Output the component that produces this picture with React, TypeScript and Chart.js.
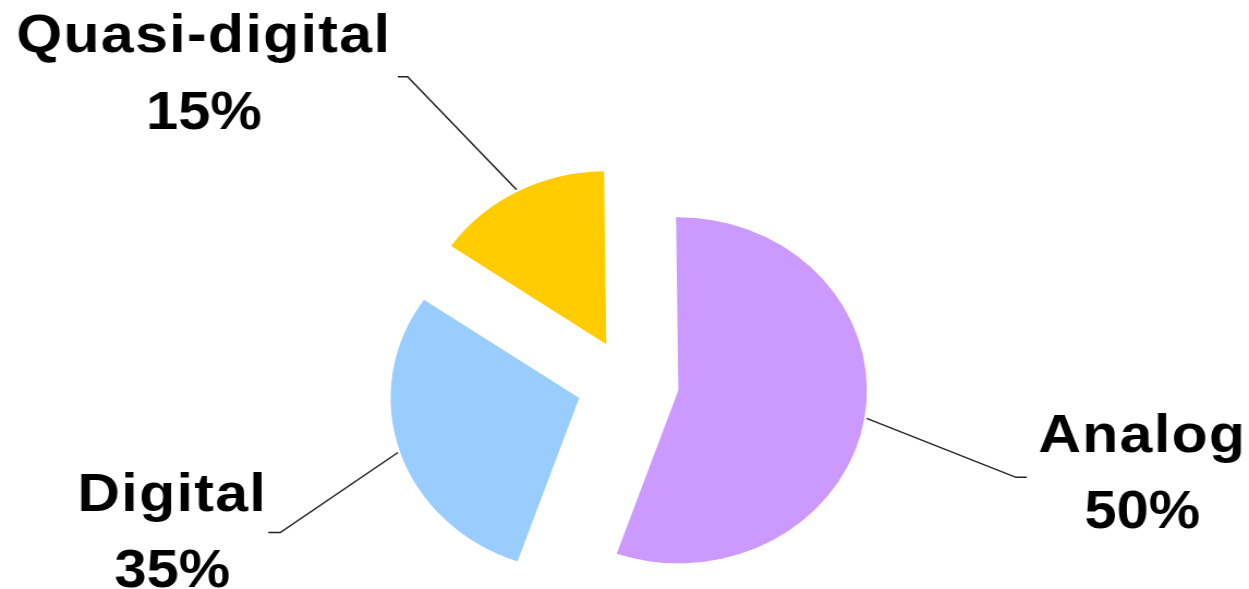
import React, { useEffect, useRef } from 'react';
import { Chart, registerables } from 'chart.js';

Chart.register(...registerables);

// ---- data ----
const categories = ['Analog', 'Digital', 'Quasi-digital'];
// slice sizes as drawn (angles measured on the picture)
const sliceShares = [55.5, 29.3, 15.2];
// percentages printed in the labels
const percentLabels = ['50%', '35%', '15%'];
const sliceColors = ['#CC99FF', '#99CCFF', '#FFCC00'];
const explodeDistances = [46, 48, 44];

// ---- layout / style ----
const CANVAS_W = 1146;
const CANVAS_H = 589;
const STRETCH_X = 1249 / CANVAS_W;
const PIE_RADIUS = 173;
const NAME_FONT = 'bold 54px "Liberation Sans", Arial, sans-serif';
const PCT_FONT = 'bold 53px "Liberation Sans", Arial, sans-serif';

// leader elbow offset from arc edge, horizontal stub, text centre offset from stub end
const labelLayout = [
  { elbow: [137, 59], stub: 10, text: [106, -25, 51] },
  { elbow: [-108, 80], stub: -11, text: [-88, -22, 54] },
  { elbow: [-100, -113], stub: -9, text: [-178, -25, 52] },
];

const explodePlugin = {
  id: 'explodeSlices',
  afterDatasetsUpdate(chart: any) {
    const meta = chart.getDatasetMeta(0);
    meta.data.forEach((arc: any, i: number) => {
      const mid = (arc.startAngle + arc.endAngle) / 2;
      const d = explodeDistances[i] || 0;
      arc.x += Math.cos(mid) * d;
      arc.y += Math.sin(mid) * d;
    });
  },
};

const labelPlugin = {
  id: 'leaderLabels',
  afterDraw(chart: any) {
    const ctx = chart.ctx as CanvasRenderingContext2D & { letterSpacing?: string };
    const meta = chart.getDatasetMeta(0);
    ctx.save();
    meta.data.forEach((arc: any, i: number) => {
      const lay = labelLayout[i];
      const mid = (arc.startAngle + arc.endAngle) / 2;
      const ex = arc.x + Math.cos(mid) * (arc.outerRadius + 2);
      const ey = arc.y + Math.sin(mid) * (arc.outerRadius + 2);
      const bx = ex + lay.elbow[0];
      const by = ey + lay.elbow[1];
      const sx = bx + lay.stub;
      ctx.strokeStyle = '#222222';
      ctx.lineWidth = 1.5;
      ctx.beginPath();
      ctx.moveTo(ex, ey);
      ctx.lineTo(bx, by);
      ctx.lineTo(sx, by);
      ctx.stroke();

      ctx.fillStyle = '#000000';
      ctx.textAlign = 'center';
      ctx.textBaseline = 'alphabetic';
      const tx = sx + lay.text[0];
      ctx.font = NAME_FONT;
      ctx.letterSpacing = '1.3px';
      ctx.fillText(categories[i], tx, by + lay.text[1]);
      ctx.font = PCT_FONT;
      ctx.letterSpacing = '0px';
      ctx.fillText(percentLabels[i], tx, by + lay.text[2]);
    });
    ctx.restore();
  },
};

export default function App() {
  const canvasRef = useRef<HTMLCanvasElement | null>(null);

  useEffect(() => {
    if (!canvasRef.current) return;
    const chart = new Chart(canvasRef.current, {
      type: 'pie',
      data: {
        labels: categories,
        datasets: [
          {
            data: sliceShares,
            backgroundColor: sliceColors,
            borderWidth: 0,
          },
        ],
      },
      options: {
        animation: false,
        responsive: true,
        maintainAspectRatio: false,
        events: [],
        rotation: -0.7,
        radius: PIE_RADIUS,
        layout: { padding: { left: 8, right: 0, top: 177, bottom: 0 } },
        plugins: {
          legend: { display: false },
          tooltip: { enabled: false },
        },
      } as any,
      plugins: [explodePlugin, labelPlugin],
    });
    return () => chart.destroy();
  }, []);

  return (
    <div
      style={{
        position: 'fixed',
        left: 0,
        top: 0,
        width: 1249,
        height: 589,
        overflow: 'hidden',
        background: '#ffffff',
      }}
    >
      <div
        style={{
          position: 'absolute',
          left: 0,
          top: 0,
          width: CANVAS_W,
          height: CANVAS_H,
          transform: `scaleX(${STRETCH_X})`,
          transformOrigin: '0 0',
        }}
      >
        <canvas ref={canvasRef} />
      </div>
    </div>
  );
}
